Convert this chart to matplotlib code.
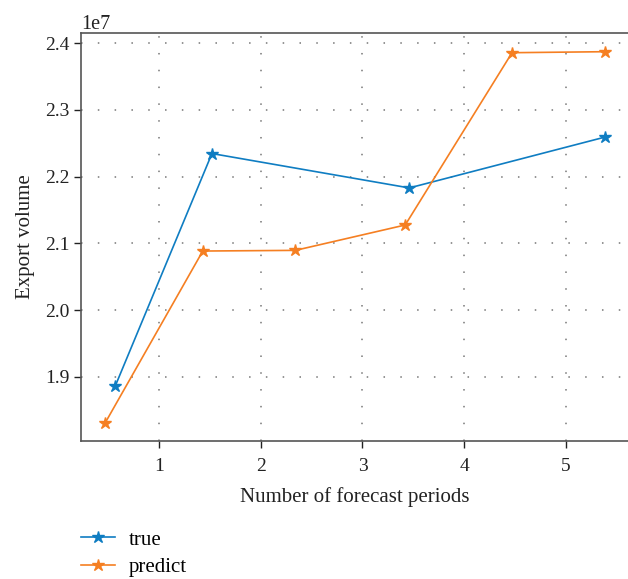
import matplotlib
matplotlib.use('Agg')
import matplotlib.pyplot as plt

# values (units of 1e7)
true_x = [0.57, 1.52, 3.46, 5.38]
true_y = [1.8865, 2.2345, 2.1830, 2.2590]
pred_x = [0.47, 1.43, 2.34, 3.42, 4.47, 5.38]
pred_y = [1.8310, 2.0885, 2.0895, 2.1275, 2.3855, 2.3870]
xticks = [1, 2, 3, 4, 5]
yticks = [1.9, 2.0, 2.1, 2.2, 2.3, 2.4]

plt.rcParams['font.family'] = ['Liberation Serif', 'DejaVu Serif']
plt.rcParams['font.size'] = 14

fig = plt.figure(figsize=(6.28, 5.79), dpi=100)
ax = fig.add_axes([0.129, 0.2383, 0.871, 0.7047])

ax.plot(true_x, [y * 1e7 for y in true_y], color='#0f7dc2', lw=1.2,
        marker='*', ms=9, label='true')
ax.plot(pred_x, [y * 1e7 for y in pred_y], color='#f57f22', lw=1.2,
        marker='*', ms=9, label='predict')

ax.set_xlim(0.233, 5.61)
ax.set_ylim(1.804e7, 2.415e7)
ax.set_xticks(xticks)
ax.set_yticks([y * 1e7 for y in yticks])
ax.ticklabel_format(axis='y', style='sci', scilimits=(7, 7))
ax.yaxis.get_offset_text().set_fontsize(14.5)

ax.grid(True, linestyle=(0, (1, 10)), color='#777777', lw=1.1)
ax.tick_params(direction='out', length=5, width=1, colors='#222222',
               labelsize=14)
ax.tick_params(axis='x', pad=7)
for s in ['left', 'bottom', 'top']:
    ax.spines[s].set_color('#555555')
    ax.spines[s].set_linewidth(1.2)
ax.spines['right'].set_visible(False)

ax.set_xlabel('Number of forecast periods', fontsize=15, color='#222222', labelpad=9)
ax.set_ylabel('Export volume', fontsize=15, color='#222222', labelpad=7)

ax.legend(loc='upper left', bbox_to_anchor=(0.0, -0.218), frameon=False,
          borderaxespad=0, borderpad=0, handlelength=1.65, handletextpad=0.65,
          labelspacing=0.4, fontsize=15)

fig.savefig('out.png', dpi=100)
